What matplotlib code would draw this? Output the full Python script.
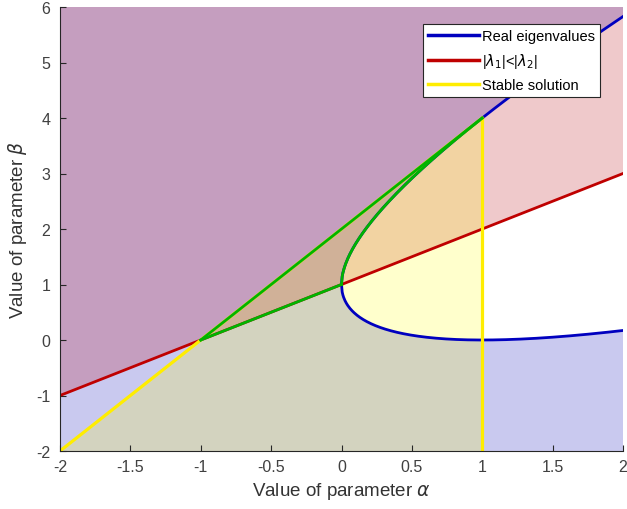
import numpy as np
import matplotlib.pyplot as plt

plt.rcParams['font.family'] = ['Liberation Sans', 'DejaVu Sans']
plt.rcParams['axes.unicode_minus'] = False

# parameter ranges
alpha_lim = [-2, 2]
beta_lim = [-2, 6]
xticks = [-2, -1.5, -1, -0.5, 0, 0.5, 1, 1.5, 2]
yticks = [-2, -1, 0, 1, 2, 3, 4, 5, 6]

# boundaries
a = np.linspace(0, 2, 400)
b_up = (1 + np.sqrt(a))**2      # real eigenvalues, upper branch
b_lo = (1 - np.sqrt(a))**2      # real eigenvalues, lower branch
a_line = np.array([-2.0, 2.0])
b_mod = a_line + 1              # |l1| = |l2|
a_stab = np.array([-2.0, 1.0])
b_stab = 2*a_stab + 2           # stability edge
a_vert = 1.0

c_blue = (0.0, 0.0, 0.75)
c_red = (0.75, 0.0, 0.0)
c_yel = (1.0, 0.93, 0.0)
c_grn = (0.0, 0.7, 0.0)

fig = plt.figure(figsize=(6.27, 5.10), dpi=100)
ax = fig.add_axes([60/627, 1 - 452/510, 563/627, 444/510])

# shaded regions
px = np.concatenate([[-2, 2], a[::-1], a, [2, -2]])
py = np.concatenate([[-2, -2], b_lo[::-1], b_up, [6, 6]])
ax.fill(px, py, color=(0.0, 0.0, 0.72), alpha=0.21, lw=0)
ax.fill([-2, 2, 2, -2], [b_mod[0], b_mod[1], 6, 6], color=(0.72, 0.0, 0.05), alpha=0.21, lw=0)
ax.fill([-2, 1, 1], [-2, 4, -2], color=(1.0, 1.0, 0.0), alpha=0.2, lw=0)

lw = 2.0
h1, = ax.plot(a, b_up, color=c_blue, lw=lw)
ax.plot(a, b_lo, color=c_blue, lw=lw)
h2, = ax.plot(a_line, b_mod, color=c_red, lw=lw)
h3, = ax.plot(a_stab, b_stab, color=c_yel, lw=lw + 0.3)
ax.plot([a_vert, a_vert], [-2, 4], color=c_yel, lw=lw + 0.3)

# outline of the stable region with |l1| < |l2|
m = a <= 1
ax.plot(a[m], b_up[m], color=c_grn, lw=lw)
ax.plot([-1, 1], [0, 4], color=c_grn, lw=lw)
ax.plot([-1, 0], [0, 1], color=c_grn, lw=lw)

ax.set_xlim(alpha_lim)
ax.set_ylim(beta_lim)
ax.set_xticks(xticks)
ax.set_xticklabels(['%g' % t for t in xticks])
ax.set_yticks(yticks)
for s in ['top', 'right']:
    ax.spines[s].set_visible(False)
for s in ['left', 'bottom']:
    ax.spines[s].set_color((0.15, 0.15, 0.15))
    ax.spines[s].set_linewidth(0.8)
ax.tick_params(direction='in', length=4, labelsize=11.5, colors=(0.15, 0.15, 0.15), labelcolor=(0.25, 0.25, 0.25))
ax.tick_params(axis='x', pad=6)
ax.tick_params(axis='y', pad=7)

ax.set_xlabel(r'Value of parameter $\alpha$', fontsize=13.5, color=(0.2, 0.2, 0.2), labelpad=4)
ax.set_ylabel(r'Value of parameter $\beta$', fontsize=13.5, color=(0.2, 0.2, 0.2), labelpad=5)

leg = ax.legend([h1, h2, h3], ['Real eigenvalues', r'|$\lambda_1$|<|$\lambda_2$|', 'Stable solution'],
                loc='upper right', bbox_to_anchor=(0.959, 0.962), borderaxespad=0, fontsize=10.5,
                handlelength=3.5, fancybox=False, framealpha=1, borderpad=0.35, labelspacing=0.55,
                handletextpad=0.2)
leg.get_frame().set_edgecolor((0.15, 0.15, 0.15))
leg.get_frame().set_linewidth(0.8)
for h in leg.get_lines():
    h.set_linewidth(2.5)

plt.savefig('out.png', dpi=100)
